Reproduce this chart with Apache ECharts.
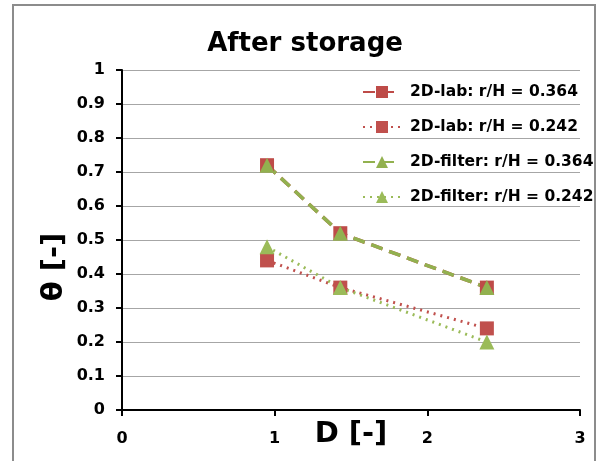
<!DOCTYPE html>
<html>
<head>
<meta charset="utf-8">
<script src="https://cdn.jsdelivr.net/npm/echarts@6/dist/echarts.min.js"></script>
<style>
html,body{margin:0;padding:0;background:#fff;overflow:hidden;width:603px;height:461px;}
#frame{position:absolute;left:12px;top:4px;width:584px;height:457px;border:2px solid #8c8c8c;border-bottom:none;box-sizing:border-box;}
#c{position:absolute;left:0;top:0;width:603px;height:461px;}
</style>
</head>
<body>
<div id="frame"></div>
<div id="c"></div>
<script>
const titleText = 'After storage';
const xName = 'D [-]';
const yName = 'θ [-]';
const seriesNames = ['2D-lab: r/H = 0.364', '2D-lab: r/H = 0.242', '2D-filter: r/H = 0.364', '2D-filter: r/H = 0.242'];
const dValues = [0.95, 1.43, 2.39];
const lab364 = [0.72, 0.52, 0.36];
const lab242 = [0.44, 0.36, 0.24];
const filter364 = [0.72, 0.52, 0.36];
const filter242 = [0.48, 0.36, 0.20];

const FONT = '"DejaVu Sans", sans-serif';
const pairs = (ys) => dValues.map((x, i) => [x, ys[i]]);

const chart = echarts.init(document.getElementById('c'), null, {renderer: 'canvas', width: 603, height: 461});
function mk(name, data, color, symbol, size, dash, width) {
  return {
    name: name, type: 'line', data: pairs(data),
    symbol: symbol, symbolSize: size,
    itemStyle: {color: color, opacity: 1},
    lineStyle: {color: color, type: dash, width: width},
    emphasis: {disabled: true},
    animation: false
  };
}
chart.setOption({
  animation: false,
  backgroundColor: 'transparent',
  title: {
    text: titleText, left: 300, top: 26, textAlign: 'center',
    textStyle: {fontFamily: FONT, fontWeight: 'bold', fontSize: 26, color: '#000'}
  },
  legend: {
    orient: 'vertical', left: 357, top: 77,
    itemWidth: 38, itemHeight: 15, itemGap: 15,
    textStyle: {fontFamily: FONT, fontWeight: 'bold', fontSize: 15.5, color: '#000', lineHeight: 20, padding: [0, 0, 0, 4]},
    data: seriesNames
  },
  grid: {left: 122, right: 23, top: 70, bottom: 51, containLabel: false, outerBoundsMode: 'none'},
  xAxis: {
    type: 'value', min: 0, max: 3, interval: 1,
    name: xName, nameLocation: 'middle', nameGap: 10, nameMoveOverlap: false,
    nameTextStyle: {fontFamily: FONT, fontWeight: 'bold', fontSize: 29, color: '#000'},
    axisLine: {show: true, onZero: false, lineStyle: {color: '#000', width: 2}},
    axisTick: {show: true, inside: false, length: 6, lineStyle: {color: '#000', width: 2}},
    axisLabel: {fontFamily: FONT, fontWeight: 'bold', fontSize: 16, color: '#000', margin: 21},
    splitLine: {show: false}
  },
  yAxis: {
    type: 'value', min: 0, max: 1, interval: 0.1,
    name: yName, nameLocation: 'middle', nameGap: 53, nameRotate: 90, nameMoveOverlap: false,
    nameTextStyle: {fontFamily: FONT, fontWeight: 'bold', fontSize: 29, color: '#000', padding: [0, 54, 0, 0]},
    axisLine: {show: true, onZero: false, lineStyle: {color: '#000', width: 2}},
    axisTick: {show: true, inside: false, length: 6, lineStyle: {color: '#000', width: 2}},
    axisLabel: {fontFamily: FONT, fontWeight: 'bold', fontSize: 16, color: '#000', margin: 17,
      formatter: (v) => String(Math.round(v * 10) / 10)},
    splitLine: {show: true, lineStyle: {color: '#a6a6a6', width: 1}}
  },
  series: [
    mk(seriesNames[0], lab364, '#BE4B48', 'rect', 14, [12, 7], 3.5),
    mk(seriesNames[1], lab242, '#C0504D', 'rect', 14, [2, 5], 3),
    mk(seriesNames[2], filter364, '#92B14F', 'triangle', 15, [12, 7], 3.5),
    mk(seriesNames[3], filter242, '#9BBB59', 'triangle', 15, [2, 5], 3)
  ]
});
</script>
</body>
</html>
